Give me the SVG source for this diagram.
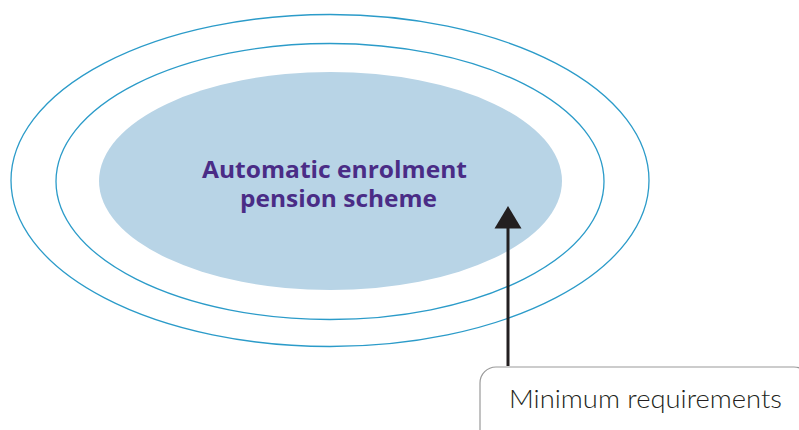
<svg xmlns="http://www.w3.org/2000/svg" width="799" height="430" viewBox="0 0 799 430">
<defs>
<style>
.ring{fill:none;stroke:#2b9bc9;stroke-width:1.3}
.title{font-family:"Open Sans","Liberation Sans",sans-serif;font-weight:700;fill:#4a2c86;font-size:23px}
.label{font-family:"Lato","Liberation Sans",sans-serif;font-weight:300;fill:#231f20;font-size:25px}
</style>
</defs>
<g id="outer"><ellipse class="ring" cx="330" cy="180.5" rx="319" ry="166"/></g>
<g id="middle"><ellipse class="ring" cx="330" cy="181.5" rx="274" ry="138"/></g>
<g id="scheme">
<ellipse cx="330.5" cy="181" rx="231.5" ry="109" fill="#b8d4e6"/>
<text class="title" text-anchor="middle"><tspan x="334.5" y="178" textLength="265" lengthAdjust="spacingAndGlyphs">Automatic enrolment</tspan><tspan x="338.5" y="207" textLength="197" lengthAdjust="spacingAndGlyphs">pension scheme</tspan></text>
</g>
<g id="connectors">
<line x1="508" y1="366" x2="508" y2="226" stroke="#231f20" stroke-width="3"/>
<polygon points="508,206 521.5,228.5 494.5,228.5" fill="#231f20"/>
</g>
<g id="requirements">
<rect x="480" y="367" width="330" height="90" rx="16" ry="16" fill="#fff" stroke="#9a9a9a" stroke-width="1.2"/>
<text class="label" x="509" y="408" textLength="273" lengthAdjust="spacingAndGlyphs">Minimum requirements</text>
</g>
</svg>
